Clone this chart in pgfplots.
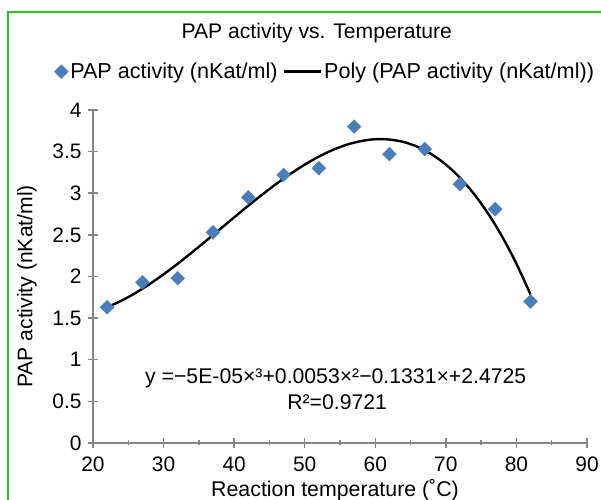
\documentclass[border=0pt]{standalone}
\usepackage{pgfplots}
\pgfplotsset{compat=1.18}
\usepackage{fontspec}
\setmainfont{Liberation Sans}
\definecolor{ptblue}{RGB}{74,126,187}
\definecolor{axgray}{RGB}{134,134,134}
\definecolor{brdgreen}{RGB}{30,200,30}
\pgfplotsset{mylegline/.style={legend image code/.code={\draw[##1] (0bp,0bp) -- (37bp,0bp);}}}
\pgfplotsset{mylegmark/.style={legend image code/.code={\draw[##1] plot coordinates {(4bp,0bp)};}}}
\begin{document}
\begin{tikzpicture}[x=1bp,y=1bp]
\useasboundingbox (0,0) rectangle (601,500);
\begin{scope}
\clip (0,0) rectangle (601,500);
\draw[brdgreen, line width=2.2bp] (8,488) rectangle (620,-20);
\end{scope}
\begin{axis}[
  at={(93bp,57bp)}, anchor=south west,
  scale only axis, width=494bp, height=333bp,
  xmin=20, xmax=90, ymin=0, ymax=4,
  xtick={20,30,...,90}, minor xtick={25,35,...,85},
  ytick={0,0.5,...,4},
  axis x line*=bottom, axis y line*=left,
  axis line style={axgray, line width=1.8bp},
  every tick/.style={axgray, line width=1.5bp},
  every major tick/.style={axgray, line width=1.5bp, tick align=center},
  every minor tick/.style={axgray, line width=1.5bp, tick align=inside},
  major tick length=10bp, minor tick length=5bp,
  /pgf/number format/assume math mode=true,
  /pgf/number format/.cd, fixed, /pgfplots/.cd,
  tick label style={font=\fontsize{21}{24}\selectfont, black},
  xticklabel style={yshift=-5.5bp},
  yticklabel style={xshift=-3bp},
  every axis title shift=0pt,
  title={PAP activity vs. Temperature},
  title style={font=\fontsize{21.2}{24}\selectfont, at={(axis description cs:0.453,1.232)}, anchor=center},
  xlabel={Reaction temperature (˚C)},
  xlabel style={font=\fontsize{21.4}{24}\selectfont, at={(axis description cs:0.49,-0.14)}, anchor=center},
  ylabel={PAP activity (nKat/ml)},
  ylabel style={font=\fontsize{21.2}{24}\selectfont, at={(axis description cs:-0.134,0.47)}, anchor=center},
  legend columns=2,
  legend style={draw=none, fill=none, font=\fontsize{21.7}{26}\selectfont,
    at={(axis description cs:0.47,1.115)}, anchor=center,
    /tikz/every even column/.append style={column sep=3bp},
    inner sep=0pt,
    nodes={inner sep=2bp}},
  clip=false,
]
\addplot[only marks, mark=square*, mark size=4.9bp, mark options={rotate=45, fill=ptblue, draw=ptblue}, mylegmark]
  coordinates {(22,1.63) (27,1.93) (32,1.98) (37,2.53) (42,2.95) (47,3.22) (52,3.30) (57,3.80) (62,3.47) (67,3.53) (72,3.11) (77,2.81) (82,1.70)};
\addlegendentry{PAP activity (nKat/ml)}
\addplot[black, line width=2.4bp, smooth, no marks, mylegline]
  coordinates {(22,1.631) (24,1.708) (26,1.801) (28,1.908) (30,2.026) (32,2.153) (34,2.288) (36,2.427) (38,2.568) (40,2.710) (42,2.850) (44,2.985) (46,3.114) (48,3.234) (50,3.344) (52,3.440) (54,3.521) (56,3.584) (58,3.627) (60,3.649) (62,3.645) (64,3.616) (66,3.557) (68,3.467) (70,3.345) (72,3.186) (74,2.990) (76,2.754) (78,2.476) (80,2.153) (82,1.783)};
\addlegendentry{Poly (PAP activity (nKat/ml))}
\node[font=\fontsize{21.3}{24}\selectfont, align=center] at (axis cs:54.4,0.78) {y =−5E-05×³+0.0053×²−0.1331×+2.4725};
\node[font=\fontsize{21.3}{24}\selectfont, align=center] at (axis cs:54.6,0.49) {R²=0.9721};
\end{axis}
\end{tikzpicture}
\end{document}
